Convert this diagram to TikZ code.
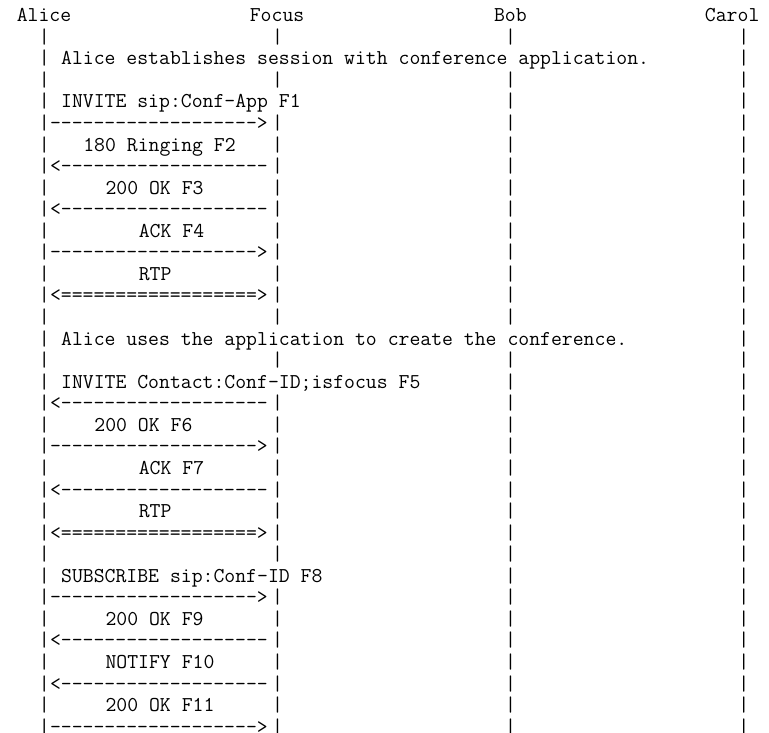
\documentclass[tikz,border=0pt]{standalone}
\usepackage{fontspec}
\setmonofont{Latin Modern Mono}
\begin{document}
\begin{tikzpicture}[x=1pt,y=-1pt,
  declare function={cx(\k)=5.65+11.1*\k; by(\r)=21.7+21.56*(\r-1);},
  txt/.style={anchor=base west, inner sep=0pt, outer sep=0pt,
    font=\ttfamily\fontsize{21.14}{21.56}\selectfont, text=black}]
\useasboundingbox (0,0) rectangle (769,733);
% headers
\node[txt] (alice) at ({cx(1)},{by(1)}) {Alice};
\node[txt] (focus) at ({cx(22)},{by(1)}) {Focus};
\node[txt] (bob)   at ({cx(44)},{by(1)}) {Bob};
\node[txt] (carol) at ({cx(63)},{by(1)}) {Carol};
% lifelines
\foreach \r in {2,...,34} \node[txt] (la\r) at ({cx(3)},{by(\r)}) {|};
\foreach \r in {2,4,6,7,...,15,17,19,20,...,26,28,29,...,34} \node[txt] (lf\r) at ({cx(24)},{by(\r)}) {|};
\foreach \r in {2,4,5,...,15,17,18,...,34} \node[txt] (lb\r) at ({cx(45)},{by(\r)}) {|};
\foreach \r in {2,...,34} \node[txt] (lc\r) at ({cx(66)},{by(\r)}) {|};
% arrows
\foreach \r in {6,12,21,28,34} \node[txt] (ar\r) at ({cx(4)},{by(\r)}) {\foreach \i in {1,...,19}{-}>};
\foreach \r in {8,10,19,23,30,32} \node[txt] (al\r) at ({cx(4)},{by(\r)}) {<\foreach \i in {1,...,19}{-}};
\foreach \r in {14,25} \node[txt] (ad\r) at ({cx(4)},{by(\r)}) {<\foreach \i in {1,...,18}{=}>};
% texts
\node[txt] (t3)  at ({cx(5)},{by(3)})  {Alice establishes session with conference application.};
\node[txt] (t5)  at ({cx(5)},{by(5)})  {INVITE sip:Conf-App F1};
\node[txt] (t7)  at ({cx(7)},{by(7)})  {180 Ringing F2};
\node[txt] (t9)  at ({cx(9)},{by(9)})  {200 OK F3};
\node[txt] (t11) at ({cx(12)},{by(11)}) {ACK F4};
\node[txt] (t13) at ({cx(12)},{by(13)}) {RTP};
\node[txt] (t16) at ({cx(5)},{by(16)}) {Alice uses the application to create the conference.};
\node[txt] (t18) at ({cx(5)},{by(18)}) {INVITE Contact:Conf-ID;isfocus F5};
\node[txt] (t20) at ({cx(8)},{by(20)}) {200 OK F6};
\node[txt] (t22) at ({cx(12)},{by(22)}) {ACK F7};
\node[txt] (t24) at ({cx(12)},{by(24)}) {RTP};
\node[txt] (t27) at ({cx(5)},{by(27)}) {SUBSCRIBE sip:Conf-ID F8};
\node[txt] (t29) at ({cx(9)},{by(29)}) {200 OK F9};
\node[txt] (t31) at ({cx(9)},{by(31)}) {NOTIFY F10};
\node[txt] (t33) at ({cx(9)},{by(33)}) {200 OK F11};
\end{tikzpicture}
\end{document}
